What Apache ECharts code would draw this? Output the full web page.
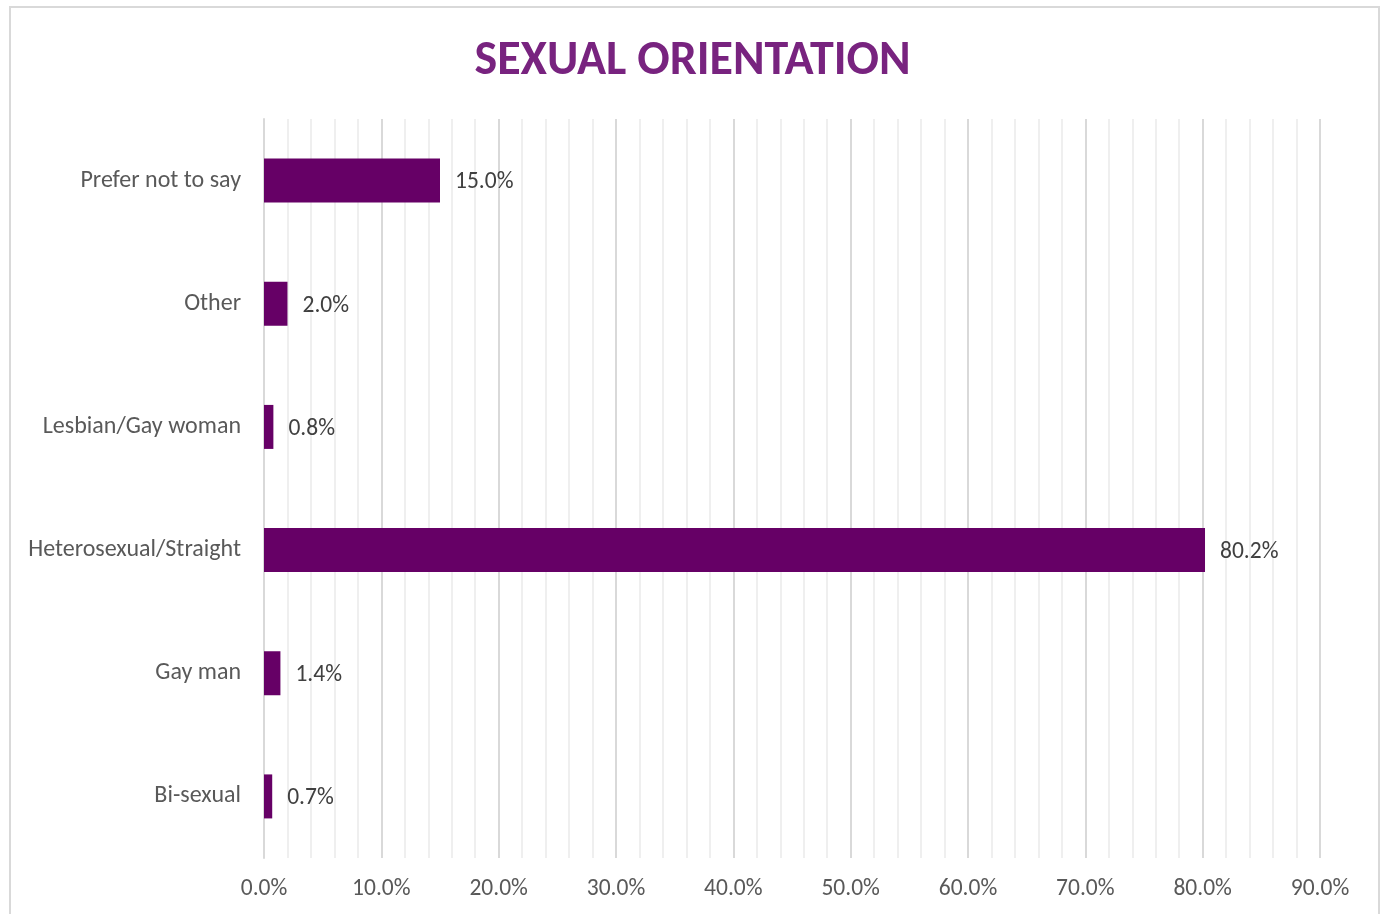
<!DOCTYPE html>
<html>
<head>
<meta charset="utf-8">
<script src="https://cdn.jsdelivr.net/npm/echarts@6/dist/echarts.min.js"></script>
<style>
  html, body { margin: 0; padding: 0; background: #fff; }
  #chart { width: 1385px; height: 914px; }
</style>
</head>
<body>
<div id="chart"></div>
<script>
// Survey responses, listed bottom-to-top as the category axis draws them
const categories = ['Bi-sexual', 'Gay man', 'Heterosexual/Straight', 'Lesbian/Gay woman', 'Other', 'Prefer not to say'];
const shares = [0.7, 1.4, 80.2, 0.8, 2.0, 15.0];
const tickStep = 10;
const axisMax = 90;

const FONT = 'Carlito, Lato, "Open Sans", sans-serif';

const chart = echarts.init(document.getElementById('chart'), null, { renderer: 'canvas' });
chart.setOption({
  backgroundColor: '#ffffff',
  animation: false,
  title: {
    text: 'SEXUAL ORIENTATION',
    left: 'center',
    top: 33,
    textStyle: { color: '#78237f', fontSize: 48, fontWeight: 'bold', fontFamily: FONT }
  },
  graphic: [{
    type: 'rect',
    shape: { x: 10, y: 7, width: 1369, height: 920 },
    style: { fill: 'none', stroke: '#d9d9d9', lineWidth: 2 },
    silent: true
  }],
  grid: { left: 264, right: 65, top: 119, bottom: 56, containLabel: false },
  xAxis: {
    type: 'value',
    min: 0,
    max: axisMax,
    interval: tickStep,
    axisLine: { show: false },
    axisTick: { show: false },
    axisLabel: {
      margin: 19,
      color: '#595959',
      fontSize: 23.5,
      fontFamily: FONT,
      formatter: v => v.toFixed(1) + '%'
    },
    splitLine: { show: true, lineStyle: { color: '#d9d9d9', width: 2 } },
    minorTick: { show: false, splitNumber: 5 },
    minorSplitLine: { show: true, lineStyle: { color: '#efefef', width: 2 } }
  },
  yAxis: {
    type: 'category',
    data: categories,
    axisLine: { show: true, lineStyle: { color: '#d9d9d9', width: 2 } },
    axisTick: { show: false },
    axisLabel: { margin: 23, color: '#595959', fontSize: 24, fontFamily: FONT, padding: [0, 0, 0, 0], lineHeight: 24, verticalAlign: 'middle', offset: [0, 0] }
  },
  series: [{
    type: 'bar',
    data: shares,
    barWidth: 44,
    itemStyle: { color: '#660066' },
    label: {
      show: true,
      position: 'right',
      distance: 15,
      offset: [0, 2],
      color: '#404040',
      fontSize: 23.5,
      fontFamily: FONT,
      formatter: p => p.value.toFixed(1) + '%'
    }
  }]
});
</script>
</body>
</html>
